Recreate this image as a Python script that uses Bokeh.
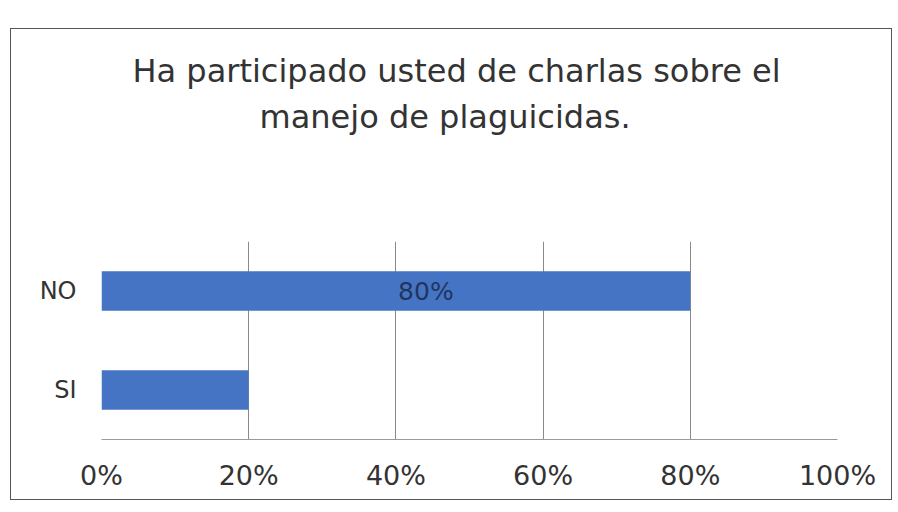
from bokeh.plotting import figure
from bokeh.models import Range1d, FactorRange, FixedTicker, Title, ColumnDataSource
from bokeh.embed import file_html
from bokeh.resources import INLINE
from bokeh.core.properties import value

# ---- data ----
categories = ["SI", "NO"]
percentages = [0.20, 0.80]
bar_labels = ["", "80%"]
tick_values = [0, 0.2, 0.4, 0.6, 0.8, 1.0]
tick_labels = ["0%", "20%", "40%", "60%", "80%", "100%"]
title_lines = ["Ha participado usted de charlas sobre el", "manejo de plaguicidas."]

FONT = "DejaVu Sans"
BAR = "#4674C4"
TXT = "#333333"

p = figure(
    width=882, height=472,
    x_range=Range1d(0, 1), y_range=FactorRange(factors=categories),
    output_backend="svg", toolbar_location=None,
    min_border_left=90, min_border_right=56, min_border_top=212, min_border_bottom=62,
    margin=(28, 0, 0, 10),
    styles={"border": "1.5px solid #555555"},
)
p.outline_line_color = None
p.background_fill_color = "white"
p.border_fill_color = "white"

src = ColumnDataSource(dict(cat=categories, val=percentages))
p.hbar(y="cat", right="val", left=0, height=0.4, source=src, fill_color=BAR, line_color=None)

# data label(s)
lab_cat = [c for c, l in zip(categories, bar_labels) if l]
lab_val = [v / 2 for v, l in zip(percentages, bar_labels) if l]
lab_txt = [l for l in bar_labels if l]
lsrc = ColumnDataSource(dict(cat=lab_cat, x=lab_val, t=lab_txt))
p.text(x="x", y="cat", text="t", source=lsrc, x_offset=30,
       text_align="center", text_baseline="middle",
       text_font=value(FONT), text_font_size="25px", text_color="#22355e")

# axes
p.xaxis.ticker = FixedTicker(ticks=tick_values)
p.xaxis.major_label_overrides = {t: s for t, s in zip(tick_values, tick_labels)}
p.xaxis.major_label_text_font = FONT
p.xaxis.major_label_text_font_size = "27px"
p.xaxis.major_label_text_color = TXT
p.xaxis.major_label_standoff = 14
p.xaxis.axis_line_color = "#9a9a9a"
p.xaxis.major_tick_line_color = None
p.xaxis.minor_tick_line_color = None

p.yaxis.major_label_text_font = FONT
p.yaxis.major_label_text_font_size = "24px"
p.yaxis.major_label_text_color = TXT
p.yaxis.major_label_standoff = 19
p.yaxis.axis_line_color = None
p.yaxis.major_tick_line_color = None
p.yaxis.minor_tick_line_color = None

p.xgrid.ticker = FixedTicker(ticks=tick_values)
p.xgrid.grid_line_color = "#8a8a8a"
p.xgrid.grid_line_width = 1
p.ygrid.grid_line_color = None

# title: a blank spacer panel next to the frame, then the two title lines
p.add_layout(Title(text=" ", standoff=63, text_font=FONT, text_font_size="32px",
                   text_color="white"), "above")
p.add_layout(Title(text=title_lines[1], align="left", offset=158, standoff=6,
                   text_font=FONT, text_font_size="32px", text_font_style="normal",
                   text_color=TXT), "above")
p.add_layout(Title(text=title_lines[0], align="left", offset=31, standoff=6,
                   text_font=FONT, text_font_size="32px", text_font_style="normal",
                   text_color=TXT), "above")

open("out.html", "w").write(file_html(p, INLINE))
